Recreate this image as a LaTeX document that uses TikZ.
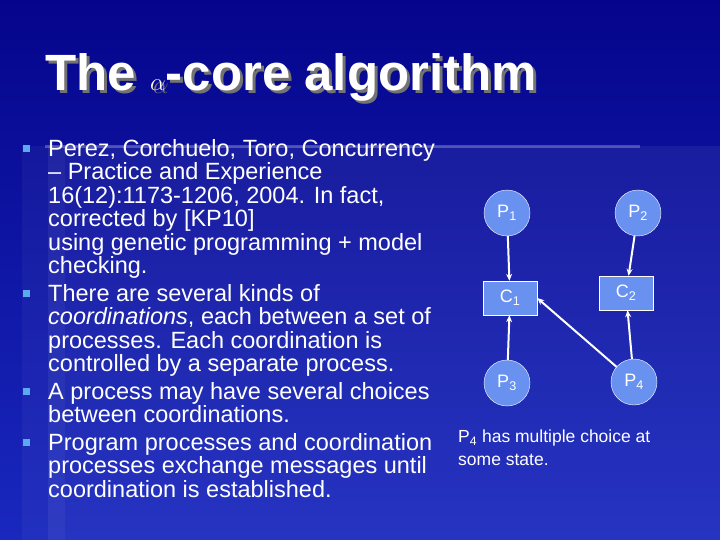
\documentclass[tikz,border=0pt]{standalone}
\usepackage{fontspec}
\setmainfont{Liberation Sans}
\usetikzlibrary{arrows.meta,shadows}
\definecolor{bgtop}{RGB}{5,5,140}
\definecolor{bgbot}{RGB}{25,40,190}
\definecolor{nodefill}{RGB}{105,145,240}
\definecolor{bullet}{RGB}{90,170,240}
\begin{document}
\begin{tikzpicture}[x=1pt,y=-1pt,
  proc/.style={circle,draw=white,fill=nodefill,minimum size=46pt,inner sep=0pt,text=white,font=\fontsize{18}{20}\selectfont},
  coord/.style={rectangle,draw=white,fill=nodefill,minimum width=54pt,minimum height=34pt,text=white,font=\fontsize{18}{20}\selectfont},
  conn/.style={draw=white,line width=2pt,-{Stealth[length=7pt,width=6pt]}},
  body/.style={anchor=north west,text=white,align=left,inner sep=0pt,font=\fontsize{23.5}{23.5}\selectfont},
  bul/.style={fill=bullet,minimum size=7pt,inner sep=0pt}]
\useasboundingbox (0,0) rectangle (720,540);
\shade[top color=bgtop,bottom color=bgbot] (0,0) rectangle (720,540);
\fill[white,opacity=0.06] (48,146) rectangle (720,540);
\fill[white,opacity=0.04] (22,146) rectangle (65,540);
\fill[white,opacity=0.25] (45,145) rectangle (640,148);
\node[anchor=base west,text=black!55,inner sep=0pt,font=\bfseries\fontsize{51}{54}\selectfont] (shadow) at (48,94) {The $\alpha$-core algorithm};
\node[anchor=base west,text=white,inner sep=0pt,font=\bfseries\fontsize{51}{54}\selectfont] (title) at (45,91) {The $\alpha$-core algorithm};
\node[bul] (b1) at (26,149) {};
\node[bul] (b2) at (26,293) {};
\node[bul] (b3) at (26,391) {};
\node[bul] (b4) at (26,442) {};
\node[body] (t1) at (48,139) {Perez, Corchuelo, Toro, Concurrency\\– Practice and Experience\\16(12):1173-1206, 2004. In fact,\\corrected by [KP10]\\using genetic programming + model\\checking.};
\node[body] (t2) at (48,284) {There are several kinds of\\\textit{coordinations}, each between a set of\\processes. Each coordination is\\controlled by a separate process.};
\node[body] (t3) at (48,382) {A process may have several choices\\between coordinations.};
\node[body] (t4) at (48,433) {Program processes and coordination\\processes exchange messages until\\coordination is established.};
\node[proc] (P1) at (507,213) {P\textsubscript{1}};
\node[proc] (P2) at (638,213) {P\textsubscript{2}};
\node[coord] (C1) at (510,298) {C\textsubscript{1}};
\node[coord] (C2) at (626,293) {C\textsubscript{2}};
\node[proc] (P3) at (507,383) {P\textsubscript{3}};
\node[proc] (P4) at (634,382) {P\textsubscript{4}};
\draw[conn] (P1) -- (C1);
\draw[conn] (P3) -- (C1);
\draw[conn] (P4) -- (C1.east);
\draw[conn] (P2) -- (C2);
\draw[conn] (P4) -- (C2);
\node[anchor=north west,text=white,align=left,inner sep=0pt,font=\fontsize{17.5}{23}\selectfont] (cap) at (458,430) {P\textsubscript{4} has multiple choice at\\some state.};
\end{tikzpicture}
\end{document}
